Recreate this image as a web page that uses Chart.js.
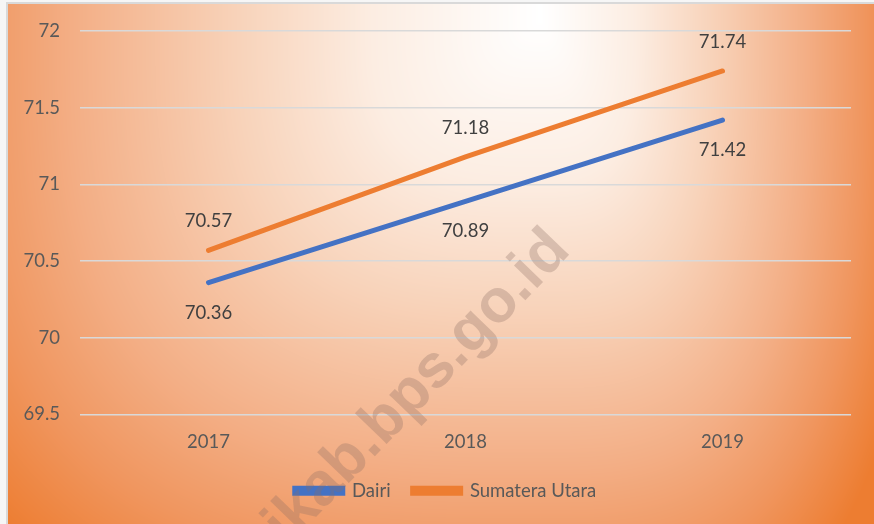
<!DOCTYPE html>
<html>
<head>
<meta charset="utf-8">
<script src="https://cdn.jsdelivr.net/npm/chart.js@4.4.0/dist/chart.umd.min.js"></script>
<style>
    html, body { margin: 0; padding: 0; background: #ffffff; }
    #wrap { width: 874px; height: 524px; position: relative; }
</style>
</head>
<body>
<div id="wrap"><canvas id="grafico"></canvas></div>
<script>
const tahun = ['2017', '2018', '2019'];
const dairi = [70.36, 70.89, 71.42];
const sumut = [70.57, 71.18, 71.74];
const label_seri = ['Dairi', 'Sumatera Utara'];
const tick_y = [69.5, 70, 70.5, 71, 71.5, 72];

const fonte = 'Lato, "Open Sans", sans-serif';

// cores do gradiente (do centro claro ate a borda laranja)
const paradas = [
    [0, 255, 255, 255],
    [0.25, 252, 237, 226],
    [0.45, 248, 211, 186],
    [0.7, 243, 174, 133],
    [0.85, 240, 150, 95],
    [1, 237, 125, 49]
];

function corGradiente(t) {
    if (t >= 1) return paradas[paradas.length - 1].slice(1);
    for (var i = 1; i < paradas.length; i++) {
        if (t <= paradas[i][0]) {
            var a = paradas[i - 1], b = paradas[i];
            var f = (t - a[0]) / (b[0] - a[0]);
            return [a[1] + (b[1] - a[1]) * f, a[2] + (b[2] - a[2]) * f, a[3] + (b[3] - a[3]) * f];
        }
    }
}

var imagemFundo = null;

// fundo laranja + marca d'agua
const fundo = {
    id: 'fundo',
    afterLayout(chart) {
        // legenda um pouco mais para a direita, como no original
        chart.legend.left += 20;
        chart.legend.right += 20;
    },
    beforeDraw(chart) {
        const ctx = chart.ctx;
        const w = chart.canvas.width, h = chart.canvas.height;
        if (!imagemFundo) {
            imagemFundo = ctx.createImageData(w, h);
            const d = imagemFundo.data;
            const cx = 540, cy = 20;
            for (var y = 0; y < h; y++) {
                for (var x = 0; x < w; x++) {
                    var k = (y * w + x) * 4;
                    var c;
                    if (x < 6 || y < 2) {
                        c = [246, 246, 246];
                    } else if (x < 8 || y < 4) {
                        c = [217, 217, 217];
                    } else {
                        var u = x < cx ? (cx - x) / 670 : (x - cx) / 380;
                        var v = Math.max(0, y - cy) / 640;
                        var t = Math.pow(Math.pow(u, 3) + Math.pow(v, 3), 1 / 3);
                        c = corGradiente(t);
                    }
                    d[k] = c[0]; d[k + 1] = c[1]; d[k + 2] = c[2]; d[k + 3] = 255;
                }
            }
        }
        ctx.putImageData(imagemFundo, 0, 0);
    },
    afterDraw(chart) {
        const ctx = chart.ctx;
        ctx.save();
        ctx.translate(572, 252);
        ctx.rotate(-46 * Math.PI / 180);
        ctx.font = 'bold 61px "Liberation Sans", Arial, sans-serif';
        ctx.textAlign = 'right';
        ctx.textBaseline = 'alphabetic';
        ctx.fillStyle = 'rgba(140, 110, 100, 0.3)';
        ctx.fillText('dairikab.bps.go.id', 0, 0);
        ctx.restore();
    }
};

// rotulos de valor
const rotulos = {
    id: 'rotulos',
    afterDatasetsDraw(chart) {
        const ctx = chart.ctx;
        ctx.save();
        ctx.font = '18.5px ' + fonte;
        ctx.fillStyle = '#404040';
        ctx.textAlign = 'center';
        ctx.textBaseline = 'middle';
        chart.data.datasets.forEach(function (ds, i) {
            const meta = chart.getDatasetMeta(i);
            meta.data.forEach(function (p, j) {
                const dy = i == 0 ? 30 : -29;
                ctx.fillText(ds.data[j].toFixed(2), p.x, p.y + dy);
            });
        });
        ctx.restore();
    }
};

new Chart(document.getElementById('grafico'), {
    type: 'line',
    data: {
        labels: tahun,
        datasets: [{
            label: label_seri[0],
            data: dairi,
            borderColor: '#4472c4',
            backgroundColor: '#4472c4',
            borderWidth: 5,
            borderCapStyle: 'round',
            pointRadius: 0,
            tension: 0
        }, {
            label: label_seri[1],
            data: sumut,
            borderColor: '#ed7d31',
            backgroundColor: '#ed7d31',
            borderWidth: 5,
            borderCapStyle: 'round',
            pointRadius: 0,
            tension: 0
        }]
    },
    options: {
        responsive: true,
        maintainAspectRatio: false,
        animation: false,
        layout: {
            padding: { left: 0, right: 23, top: 31, bottom: 14 }
        },
        scales: {
            x: {
                offset: true,
                grid: { display: false },
                border: { display: false },
                ticks: {
                    color: '#595959',
                    font: { size: 18.5, family: fonte },
                    padding: 8
                },
                afterFit(scale) {
                    scale.height = 45;
                }
            },
            y: {
                min: 69.5,
                max: 72,
                afterBuildTicks(scale) {
                    scale.ticks = tick_y.map(function (v) { return { value: v }; });
                },
                afterFit(scale) {
                    scale.width = 80;
                },
                grid: {
                    color: '#d9d9d9',
                    lineWidth: 1.5,
                    drawTicks: false
                },
                border: { display: false },
                ticks: {
                    color: '#595959',
                    font: { size: 18.5, family: fonte },
                    padding: 20,
                    callback: function (v) { return v; }
                }
            }
        },
        plugins: {
            legend: {
                position: 'bottom',
                labels: {
                    color: '#595959',
                    font: { size: 18.5, family: fonte },
                    boxWidth: 48,
                    boxHeight: 5,
                    padding: 22
                }
            },
            tooltip: { enabled: false }
        }
    },
    plugins: [fundo, rotulos]
});
</script>
</body>
</html>
